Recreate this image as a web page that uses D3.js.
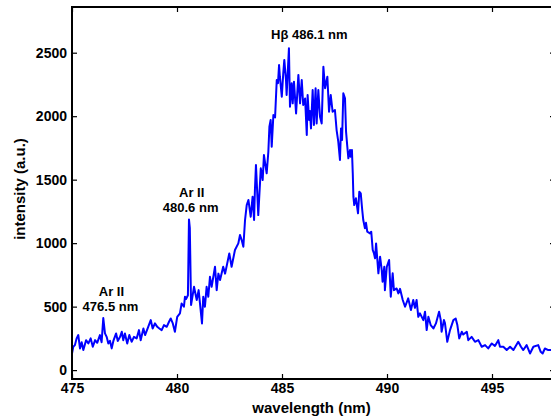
<!DOCTYPE html>
<html>
<head>
<meta charset="utf-8">
<script src="https://cdn.jsdelivr.net/npm/d3@7"></script>
<style>
  body { margin: 0; background: #fff; }
  svg { display: block; font-family: "Liberation Sans", Arial, Helvetica, sans-serif; }
  text { font-weight: bold; fill: #000; }
</style>
</head>
<body>
<script>
// wavelength (nm) and intensity (a.u.)
var wavelength = [
  475.00, 475.06, 475.14, 475.22, 475.30, 475.38, 475.46, 475.54, 475.67, 475.78,
  475.89, 475.99, 476.10, 476.20, 476.33, 476.41, 476.49, 476.57, 476.65, 476.73,
  476.81, 476.89, 476.97, 477.10, 477.18, 477.29, 477.37, 477.44, 477.52, 477.63,
  477.73, 477.84, 477.95, 478.08, 478.19, 478.27, 478.40, 478.48, 478.63, 478.75,
  478.84, 478.95, 479.06, 479.16, 479.27, 479.38, 479.51, 479.62, 479.70, 479.80,
  479.90, 480.01, 480.14, 480.22, 480.33, 480.38, 480.43, 480.52, 480.57, 480.61,
  480.67, 480.81, 480.94, 481.03, 481.19, 481.25, 481.33, 481.41, 481.49, 481.57,
  481.65, 481.81, 481.89, 481.97, 482.05, 482.20, 482.29, 482.49, 482.60, 482.76,
  482.92, 483.00, 483.08, 483.16, 483.24, 483.32, 483.40, 483.51, 483.60, 483.67,
  483.71, 483.76, 483.87, 483.99, 484.08, 484.14, 484.27, 484.35, 484.40, 484.46,
  484.51, 484.59, 484.67, 484.75, 484.81, 484.86, 484.90, 484.99, 485.06, 485.11,
  485.19, 485.22, 485.33, 485.38, 485.46, 485.51, 485.57, 485.67, 485.78, 485.86,
  485.94, 486.01, 486.10, 486.18, 486.22, 486.29, 486.33, 486.38, 486.46, 486.52,
  486.60, 486.65, 486.73, 486.81, 486.89, 486.97, 487.05, 487.16, 487.24, 487.32,
  487.41, 487.52, 487.60, 487.68, 487.76, 487.81, 487.86, 487.92, 488.00, 488.05,
  488.11, 488.16, 488.24, 488.27, 488.33, 488.37, 488.40, 488.44, 488.52, 488.62,
  488.68, 488.75, 488.82, 488.87, 488.95, 489.00, 489.06, 489.19, 489.25, 489.32,
  489.38, 489.43, 489.48, 489.59, 489.67, 489.75, 489.79, 489.87, 489.90, 489.99,
  490.10, 490.18, 490.27, 490.33, 490.46, 490.54, 490.62, 490.75, 490.86, 491.01,
  491.14, 491.25, 491.33, 491.41, 491.49, 491.57, 491.73, 491.81, 491.89, 491.97,
  492.08, 492.21, 492.33, 492.48, 492.56, 492.60, 492.71, 492.76, 492.87, 493.00,
  493.16, 493.27, 493.35, 493.44, 493.56, 493.63, 493.80, 493.87, 494.03, 494.19,
  494.35, 494.51, 494.67, 494.82, 494.99, 495.14, 495.30, 495.38, 495.54, 495.70,
  495.86, 496.02, 496.25, 496.38, 496.49, 496.65, 496.81, 496.97, 497.20, 497.32,
  497.41, 497.52, 497.68, 497.81, 498.00
];
var intensity = [
   131,  184,  197,  250,  276,  171,  220,  158,  236,  210,
   250,  184,  236,  215,  276,  220,  410,  289,  262,  210,
   230,  171,  230,  289,  230,  262,  302,  236,  289,  210,
   276,  223,  262,  250,  315,  236,  328,  276,  341,  394,
   328,  368,  341,  328,  315,  355,  341,  381,  407,  368,
   302,  420,  447,  525,  499,  578,  560,  590, 1187, 1120,
   512,  656,  552,  630,  368,  578,  499,  656,  578,  735,
   656,  814,  630,  760,  709,  814,  760,  919,  814,  946,
   998, 1064, 1024,  972, 1182, 1300, 1340, 1208, 1366, 1182,
  1418, 1615, 1221, 1589, 1497, 1694, 1550, 1720, 1917, 1970,
  1760, 2009, 1990, 2285, 2260, 2403, 2311, 2154, 2338, 2443,
  2285, 2167, 2535, 2075, 2259, 2101, 2272, 2022, 2325, 2101,
  2285, 2088, 2140, 1852, 2167, 1970, 2040, 1904, 2206, 1930,
  2220, 1943, 2206, 1996, 1943, 2390, 2220, 2311, 2035, 2167,
  2035, 2049, 1891, 1799, 1655, 1904, 1812, 2180, 2140, 1878,
  1760, 1668, 1734, 1681, 1734, 1550, 1366, 1300, 1353, 1235,
  1405, 1392, 1261, 1182, 1117, 1160, 1090, 1077, 1090,  946,
   919,  880,  998,  762,  893,  788,  696,  814,  630,  814,
   867,  578,  762,  630,  643,  604,  640,  552,  499,  565,
   473,  552,  490,  552,  420,  447,  394,  460,  315,  420,
   355,  328,  368,  460,  394,  302,  394,  370,  223,  315,
   394,  407,  355,  250,  302,  280,  302,  236,  262,  223,
   236,  184,  197,  171,  210,  190,  236,  184,  184,  158,
   184,  158,  223,  184,  158,  197,  131,  184,  197,  144,
   131,  170,  158,  158,  150
];
var xTicks = [475, 480, 485, 490, 495];
var yTicks = [0, 500, 1000, 1500, 2000, 2500];
// peak labels: [wavelength, intensity, line1, line2]
var peakLabels = [
  [486.3, 2605, "H\u03b2 486.1 nm", null],
  [480.65, 1365, "Ar II", "480.6 nm"],
  [476.83, 585, "Ar II", "476.5 nm"]
];

var width = 551, height = 419;
var margin = { top: 7, right: -4, bottom: 40, left: 72 };
var iw = width - margin.left - margin.right;
var ih = height - margin.top - margin.bottom;

var svg = d3.select("body").append("svg")
  .attr("width", width)
  .attr("height", height);

var x = d3.scaleLinear().domain([475, 498]).range([0, iw]);
var y = d3.scaleLinear().domain([-70, 2860]).range([ih, 0]);

var g = svg.append("g")
  .attr("transform", "translate(" + margin.left + "," + margin.top + ")");

g.append("clipPath").attr("id", "clip")
  .append("rect").attr("width", iw).attr("height", ih);

var line = d3.line()
  .x(function(d, i) { return x(wavelength[i]); })
  .y(function(d) { return y(d); });

g.append("path")
  .datum(intensity)
  .attr("clip-path", "url(#clip)")
  .attr("fill", "none")
  .attr("stroke", "#0000ff")
  .attr("stroke-width", 2)
  .attr("stroke-linejoin", "round")
  .attr("d", line);

// axes, ticks pointing inward on all four sides
function styleAxis(sel) {
  sel.select(".domain").remove();
  sel.selectAll(".tick line").attr("stroke", "#000").attr("stroke-width", 1.2);
  sel.selectAll(".tick text").style("font-size", "14px").style("font-weight", "bold");
}

g.append("g")
  .attr("transform", "translate(0," + ih + ")")
  .call(d3.axisBottom(x).tickValues(xTicks).tickSizeInner(-5).tickPadding(4).tickFormat(d3.format("d")))
  .call(styleAxis);

g.append("g")
  .call(d3.axisTop(x).tickValues(xTicks).tickSizeInner(-5).tickFormat(""))
  .call(styleAxis);

g.append("g")
  .call(d3.axisLeft(y).tickValues(yTicks).tickSizeInner(-5).tickPadding(5).tickFormat(d3.format("d")))
  .call(styleAxis);

g.append("g")
  .attr("transform", "translate(" + iw + ",0)")
  .call(d3.axisRight(y).tickValues(yTicks).tickSizeInner(-5).tickFormat(""))
  .call(styleAxis);

g.append("rect")
  .attr("width", iw).attr("height", ih)
  .attr("fill", "none")
  .attr("stroke", "#000")
  .attr("stroke-width", 2);

// axis titles
svg.append("text")
  .attr("x", margin.left + iw / 2 - 2)
  .attr("y", 413)
  .attr("text-anchor", "middle")
  .style("font-size", "15px")
  .text("wavelength (nm)");

svg.append("text")
  .attr("transform", "translate(25," + (margin.top + ih / 2 - 4) + ") rotate(-90)")
  .attr("text-anchor", "middle")
  .style("font-size", "15px")
  .text("intensity (a.u.)");

// peak annotations
peakLabels.forEach(function(p) {
  var t = g.append("text")
    .attr("text-anchor", "middle")
    .style("font-size", "13px");
  if (p[3] === null) {
    t.attr("x", x(p[0])).attr("y", y(p[1])).text(p[2]);
  } else {
    t.append("tspan").attr("x", x(p[0]) + 1).attr("y", y(p[1])).text(p[2]);
    t.append("tspan").attr("x", x(p[0])).attr("y", y(p[1]) + 15.5).text(p[3]);
  }
});
</script>
</body>
</html>
